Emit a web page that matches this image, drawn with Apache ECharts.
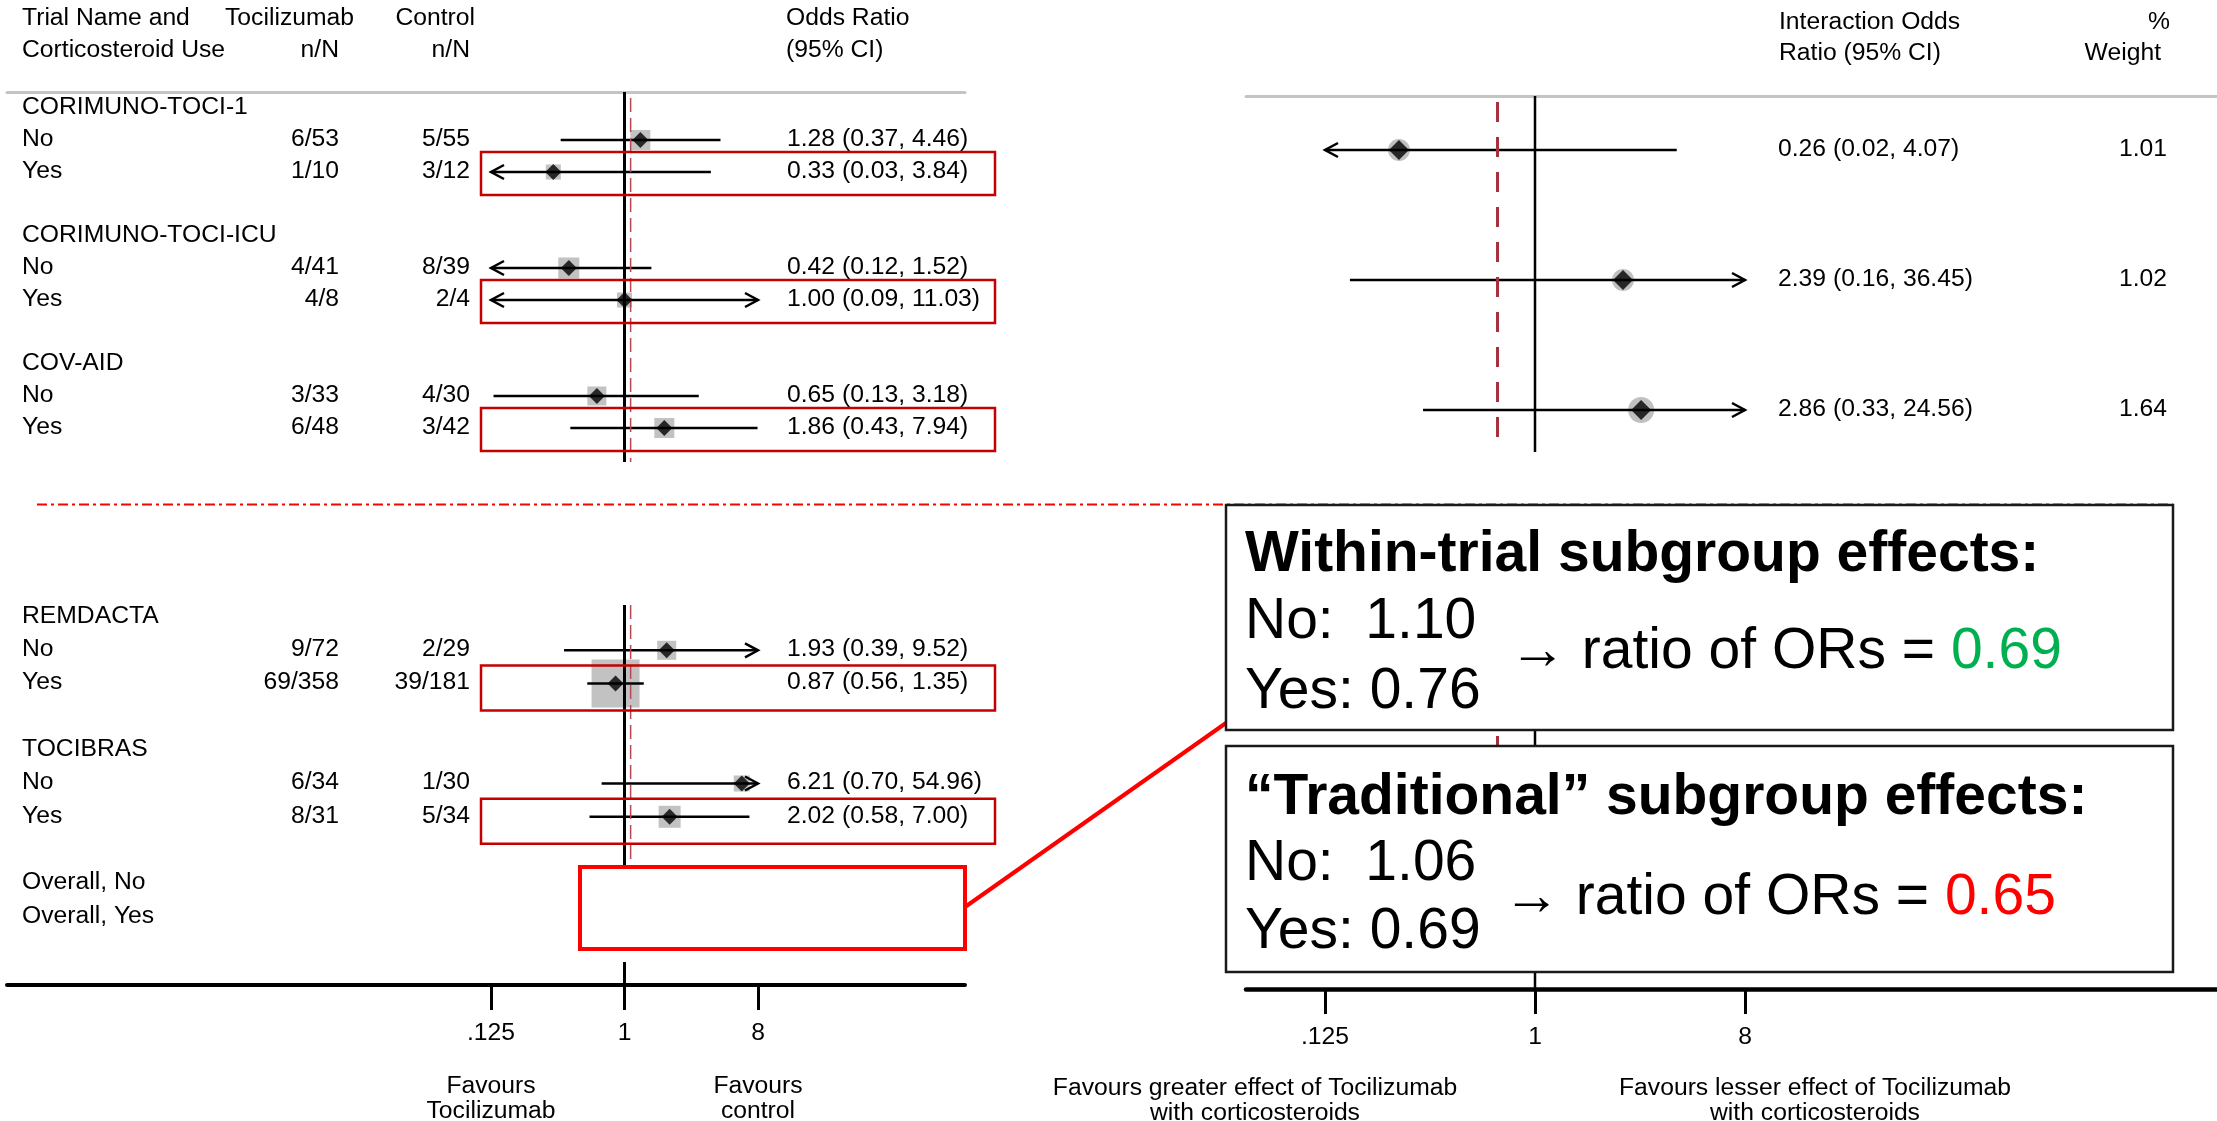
<!DOCTYPE html>
<html><head><meta charset="utf-8">
<script src="https://cdn.jsdelivr.net/npm/echarts@6/dist/echarts.min.js"></script>
<style>html,body{margin:0;padding:0;background:#fff}#c{width:2217px;height:1121px}</style>
</head><body><div id="c"></div>
<script>
// ---------------- data ----------------
const trials = ['CORIMUNO-TOCI-1', 'CORIMUNO-TOCI-ICU', 'COV-AID', 'REMDACTA', 'TOCIBRAS'];
const steroidUse = ['No', 'Yes'];
const tociEvents = ['6/53', '1/10', '4/41', '4/8', '3/33', '6/48', '9/72', '69/358', '6/34', '8/31'];
const ctrlEvents = ['5/55', '3/12', '8/39', '2/4', '4/30', '3/42', '2/29', '39/181', '1/30', '5/34'];
const orEst = [1.28, 0.33, 0.42, 1.00, 0.65, 1.86, 1.93, 0.87, 6.21, 2.02];
const orLow = [0.37, 0.03, 0.12, 0.09, 0.13, 0.43, 0.39, 0.56, 0.70, 0.58];
const orHigh = [4.46, 3.84, 1.52, 11.03, 3.18, 7.94, 9.52, 1.35, 54.96, 7.00];
const overallLabels = ['Overall, No', 'Overall, Yes'];
const intEst = [0.26, 2.39, 2.86];
const intLow = [0.02, 0.16, 0.33];
const intHigh = [4.07, 36.45, 24.56];
const intWeight = [1.01, 1.02, 1.64];
const tickValues = [0.125, 1, 8];
const tickLabels = ['.125', '1', '8'];
const refOR = 1.10;
const refInteraction = 0.69;
const withinOR = [1.10, 0.76];
const withinRatio = 0.69;
const tradOR = [1.06, 0.69];
const tradRatio = 0.65;

// ---------------- styles / layout ----------------
const FF = '"Liberation Sans", Arial, Helvetica, sans-serif';
const FS = 24.7;
const F24 = FS + 'px ' + FF;
const boxPx = [20, 15, 21, 15, 19, 20, 19, 48, 16, 22];   // grey weight squares
const circlePx = [22, 22, 26];
const LEFT = {x0: 7, x1: 965, zero: 624.5, unit: 44.5};
const RIGHT = {x0: 1246, x1: 2217, zero: 1535, unit: 70};
const SEC = [
  {top: 92, start: 108, step: 32, bottom: 476},
  {top: 600.35, start: 617, step: 33.3, bottom: 985},
  {top: 96, start: 150, step: 130, bottom: 989}
];
const COL = {label: 22, toci: 339, ctrl: 470, or: 787, boxL: 481, boxR: 995, intOr: 1778, weight: 2167};
const YESBOX = [[-20, 23], [-18, 27]];
const rowOf = (s, px) => (px - SEC[s].start) / SEC[s].step;
const L2 = Math.log2;
const CLIP = [L2(0.125), L2(8)];

const fmt2 = v => v.toFixed(2);
const fmtCI = (e, l, h) => fmt2(e) + ' (' + fmt2(l) + ', ' + fmt2(h) + ')';
const ticksLog = tickValues.map(v => L2(v));
const fmtTick = v => { const k = ticksLog.findIndex(t => Math.abs(t - v) < 1e-6); return k >= 0 ? tickLabels[k] : ''; };

// rows
const rowItems = [[], []];
trials.forEach((name, t) => {
  const s = t < 3 ? 0 : 1;
  const base = 4 * (s === 0 ? t : t - 3);
  rowItems[s].push({row: base, kind: 'trial', text: name});
  steroidUse.forEach((u, k) => rowItems[s].push({row: base + 1 + k, kind: 'arm', text: u, idx: 2 * t + k, k}));
});
overallLabels.forEach((lab, k) => rowItems[1].push({row: 8 + k, kind: 'trial', text: lab}));
const armRows = [0, 1].map(s => rowItems[s].filter(r => r.kind === 'arm'));

// ---------------- series builders ----------------
function arrowHead(p, dir) {
  return {type: 'polyline', shape: {points: [[p[0] - dir * 13, p[1] - 7], [p[0], p[1]], [p[0] - dir * 13, p[1] + 7]]},
    style: {stroke: '#000', lineWidth: 2.5, fill: 'none'}};
}
function ciSeries(ax, data) {
  return {type: 'custom', xAxisIndex: ax, yAxisIndex: ax, silent: true, z: 3, data,
    renderItem(params, api) {
      const lo = api.value(0), hi = api.value(1), row = api.value(2);
      const a = Math.max(lo, CLIP[0]), b = Math.min(hi, CLIP[1]);
      const p0 = api.coord([a, row]), p1 = api.coord([b, row]);
      const ch = [{type: 'line', shape: {x1: p0[0], y1: p0[1], x2: p1[0], y2: p1[1]}, style: {stroke: '#000', lineWidth: 2.5}}];
      if (lo < CLIP[0]) ch.push(arrowHead(p0, -1));
      if (hi > CLIP[1]) ch.push(arrowHead(p1, 1));
      return {type: 'group', children: ch};
    }};
}
const REF_STYLES = [
  {stroke: '#000', lineWidth: 3},
  {stroke: '#b8474f', lineWidth: 1.5, lineDash: [14, 6]},
  {stroke: '#a3303c', lineWidth: 3, lineDash: [20, 15]},
  {stroke: '#000', lineWidth: 2.5}
];
function refSeries(ax, segs) {
  return {type: 'custom', xAxisIndex: ax, yAxisIndex: ax, silent: true, z: 4,
    data: segs.map(s => [s[0], s[1], s[2], s[3]]),
    renderItem(params, api) {
      const sg = segs[params.dataIndex];
      const p0 = api.coord([sg[0], sg[1]]), p1 = api.coord([sg[0], sg[2]]);
      return {type: 'line', shape: {x1: p0[0], y1: p0[1], x2: p1[0], y2: p1[1]}, style: REF_STYLES[sg[3]]};
    }};
}
function textSeries(s) {
  const items = rowItems[s];
  return {type: 'custom', xAxisIndex: s, yAxisIndex: s, silent: true, z: 6,
    data: items.map(it => [0, it.row]),
    renderItem(params, api) {
      const it = items[params.dataIndex];
      const y = api.coord([0, api.value(1)])[1] - 1;
      const T = (text, x, align) => ({type: 'text', style: {text, x, y, align, verticalAlign: 'middle', font: F24, fill: '#000'}});
      const ch = [T(it.text, COL.label, 'left')];
      if (it.kind === 'arm') {
        const i = it.idx;
        ch.push(T(tociEvents[i], COL.toci, 'right'), T(ctrlEvents[i], COL.ctrl, 'right'),
          T(fmtCI(orEst[i], orLow[i], orHigh[i]), COL.or, 'left'));
      }
      return {type: 'group', children: ch};
    }};
}
function yesBoxSeries(s) {
  const rows = armRows[s].filter(r => r.k === 1);
  return {type: 'custom', xAxisIndex: s, yAxisIndex: s, silent: true, z: 7,
    data: rows.map(r => [0, r.row]),
    renderItem(params, api) {
      const y = api.coord([0, api.value(1)])[1];
      return {type: 'rect', shape: {x: COL.boxL, y: y + YESBOX[s][0], width: COL.boxR - COL.boxL, height: YESBOX[s][1] - YESBOX[s][0]},
        style: {fill: 'none', stroke: '#c40000', lineWidth: 2.5}};
    }};
}

const series = [];
[0, 1].forEach(s => {
  const rows = armRows[s];
  series.push({type: 'scatter', xAxisIndex: s, yAxisIndex: s, silent: true, z: 1, symbol: 'rect',
    symbolSize: v => boxPx[v[2]], itemStyle: {color: '#b3b3b3'},
    data: rows.map(r => [L2(orEst[r.idx]), r.row, r.idx])});
  series.push(ciSeries(s, rows.map(r => [L2(orLow[r.idx]), L2(orHigh[r.idx]), r.row])));
  series.push({type: 'scatter', xAxisIndex: s, yAxisIndex: s, silent: true, z: 5, symbol: 'diamond',
    symbolSize: [16, 16], itemStyle: {color: '#000'},
    data: rows.map(r => [L2(orEst[r.idx]), r.row])});
  series.push(textSeries(s));
  series.push(yesBoxSeries(s));
});
series.push(refSeries(0, [
  [0, rowOf(0, 92), rowOf(0, 462), 0],
  [L2(refOR), rowOf(0, 98), rowOf(0, 462), 1]
]));
series.push(refSeries(1, [
  [0, rowOf(1, 605), rowOf(1, 867), 0],
  [0, rowOf(1, 962), rowOf(1, 985), 0],
  [L2(refOR), rowOf(1, 605), rowOf(1, 867), 1]
]));
// right (interaction) panel
const intRows = intEst.map((_, k) => k);
series.push({type: 'scatter', xAxisIndex: 2, yAxisIndex: 2, silent: true, z: 1, symbol: 'circle',
  symbolSize: v => circlePx[v[2]], itemStyle: {color: '#b0b0b0'},
  data: intRows.map(k => [L2(intEst[k]), k, k])});
series.push(ciSeries(2, intRows.map(k => [L2(intLow[k]), L2(intHigh[k]), k])));
series.push({type: 'scatter', xAxisIndex: 2, yAxisIndex: 2, silent: true, z: 5, symbol: 'diamond',
  symbolSize: [20, 20], itemStyle: {color: '#000'},
  data: intRows.map(k => [L2(intEst[k]), k])});
series.push(refSeries(2, [
  [0, rowOf(2, 96), rowOf(2, 452), 3],
  [0, rowOf(2, 730), rowOf(2, 989), 3],
  [L2(refInteraction), rowOf(2, 102), rowOf(2, 440), 2],
  [L2(refInteraction), rowOf(2, 736), rowOf(2, 748), 2]
]));
series.push({type: 'custom', xAxisIndex: 2, yAxisIndex: 2, silent: true, z: 6,
  data: intRows.map(k => [0, k]),
  renderItem(params, api) {
    const k = params.dataIndex;
    const y = api.coord([0, api.value(1)])[1] - 1;
    return {type: 'group', children: [
      {type: 'text', style: {text: fmtCI(intEst[k], intLow[k], intHigh[k]), x: COL.intOr, y, align: 'left', verticalAlign: 'middle', font: F24, fill: '#000'}},
      {type: 'text', style: {text: fmt2(intWeight[k]), x: COL.weight, y, align: 'right', verticalAlign: 'middle', font: F24, fill: '#000'}}
    ]};
  }});

// ---------------- axes ----------------
function xr(P) { return {min: (P.x0 - P.zero) / P.unit, max: (P.x1 - P.zero) / P.unit}; }
const xl = xr(LEFT), xrt = xr(RIGHT);
const hiddenParts = {axisTick: {show: false}, axisLabel: {show: false}, splitLine: {show: false}};
function greyTop(grid, r) {
  return Object.assign({gridIndex: grid, type: 'value', min: r.min, max: r.max, position: 'top',
    axisLine: {show: true, onZero: false, lineStyle: {color: '#c4c4c4', width: 3}}}, hiddenParts);
}
function blackBottom(grid, r, w) {
  return {gridIndex: grid, type: 'value', min: r.min, max: r.max, position: 'bottom',
    axisLine: {show: true, onZero: false, lineStyle: {color: '#000', width: w}},
    axisTick: {show: true, customValues: ticksLog, length: 25, lineStyle: {color: '#000', width: 3}},
    axisLabel: {show: true, customValues: ticksLog, formatter: fmtTick, fontSize: FS, fontFamily: FF, color: '#000', margin: 36},
    splitLine: {show: false}};
}

const option = {
  animation: false,
  backgroundColor: '#fff',
  grid: [
    {left: LEFT.x0, width: LEFT.x1 - LEFT.x0, top: SEC[0].top, height: SEC[0].bottom - SEC[0].top, outerBoundsMode: 'none'},
    {left: LEFT.x0, width: LEFT.x1 - LEFT.x0, top: SEC[1].top, height: SEC[1].bottom - SEC[1].top, outerBoundsMode: 'none'},
    {left: RIGHT.x0, width: RIGHT.x1 - RIGHT.x0, top: SEC[2].top, height: SEC[2].bottom - SEC[2].top, outerBoundsMode: 'none'}
  ],
  xAxis: [greyTop(0, xl), blackBottom(1, xl, 4), blackBottom(2, xrt, 4.5), greyTop(2, xrt)],
  yAxis: [0, 1, 2].map(i => ({gridIndex: i, type: 'value', inverse: true, show: false,
    min: rowOf(i, SEC[i].top), max: rowOf(i, SEC[i].bottom)})),
  series
};

const chart = echarts.init(document.getElementById('c'), null, {renderer: 'canvas', width: 2217, height: 1121});
chart.setOption(option);

// ---------------- annotations ----------------
const px = (ax, v) => chart.convertToPixel({xAxisIndex: ax}, L2(v));
const txt = (text, x, y, align, font, extra) => Object.assign({type: 'text', z: 120,
  style: Object.assign({text, x, y, align: align || 'left', verticalAlign: 'middle', font: font || F24, fill: '#000'}, extra || {})});
const F55 = '57px ' + FF, FB = 'bold 57px ' + FF;
const g = [
  txt('Trial Name and', 22, 18), txt('Corticosteroid Use', 22, 50),
  txt('Tocilizumab', 354, 18, 'right'), txt('n/N', 339, 50, 'right'),
  txt('Control', 475, 18, 'right'), txt('n/N', 470, 50, 'right'),
  txt('Odds Ratio', 786, 18), txt('(95% CI)', 786, 50),
  txt('Interaction Odds', 1779, 22), txt('Ratio (95% CI)', 1779, 53),
  txt('%', 2170, 22, 'right'), txt('Weight', 2161, 53, 'right'),
  // favours labels
  txt('Favours\nTocilizumab', px(1, 0.125), 1074, 'center', F24, {verticalAlign: 'top', lineHeight: 25}),
  txt('Favours\ncontrol', px(1, 8), 1074, 'center', F24, {verticalAlign: 'top', lineHeight: 25}),
  txt('Favours greater effect of Tocilizumab\nwith corticosteroids', px(2, 1 / 16), 1076, 'center', F24, {verticalAlign: 'top', lineHeight: 25}),
  txt('Favours lesser effect of Tocilizumab\nwith corticosteroids', px(2, 16), 1076, 'center', F24, {verticalAlign: 'top', lineHeight: 25}),
  // separator
  {type: 'line', z: 100, shape: {x1: 37, y1: 504.5, x2: 2173, y2: 504.5}, style: {stroke: '#ff0000', lineWidth: 2.2, lineDash: [10, 4, 3, 4]}},
  // big red box + connector
  {type: 'rect', z: 105, shape: {x: 580, y: 867, width: 385, height: 82}, style: {fill: '#fff', stroke: '#ff0000', lineWidth: 4}},
  {type: 'line', z: 106, shape: {x1: 965, y1: 907, x2: 1226, y2: 723}, style: {stroke: '#ff0000', lineWidth: 4}},
  // black boxes
  {type: 'rect', z: 110, shape: {x: 1226, y: 505, width: 947, height: 225}, style: {fill: '#fff', stroke: '#1a1a1a', lineWidth: 2.5}},
  {type: 'rect', z: 110, shape: {x: 1226, y: 746, width: 947, height: 226}, style: {fill: '#fff', stroke: '#1a1a1a', lineWidth: 2.5}},
  txt('Within-trial subgroup effects:', 1245, 555, 'left', FB),
  txt('No:  ' + fmt2(withinOR[0]), 1245, 622, 'left', F55),
  txt('Yes: ' + fmt2(withinOR[1]), 1245, 692, 'left', F55),
  txt('→ ratio of ORs = {v|' + fmt2(withinRatio) + '}', 1509, 652, 'left', F55, {rich: {v: {fill: '#00b050', font: F55}}}),
  txt('\u201cTraditional\u201d subgroup effects:', 1245, 798, 'left', FB),
  txt('No:  ' + fmt2(tradOR[0]), 1245, 864, 'left', F55),
  txt('Yes: ' + fmt2(tradOR[1]), 1245, 932, 'left', F55),
  txt('→ ratio of ORs = {v|' + fmt2(tradRatio) + '}', 1503, 898, 'left', F55, {rich: {v: {fill: '#ff0000', font: F55}}})
];
chart.setOption({graphic: {elements: g}});
</script></body></html>
